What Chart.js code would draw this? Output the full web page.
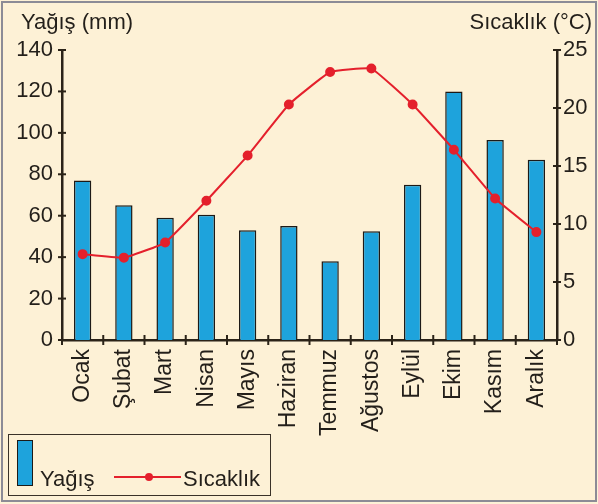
<!DOCTYPE html>
<html>
<head>
<meta charset="utf-8">
<script src="https://cdn.jsdelivr.net/npm/chart.js@4/dist/chart.umd.min.js"></script>
<style>
  html, body { margin: 0; padding: 0; }
  body { width: 598px; height: 504px; position: relative; overflow: hidden; background: #fdf1d6; font-family: "Liberation Sans", Arial, sans-serif; }
  #frame { position: absolute; left: 1px; top: 1px; width: 592px; height: 497px; border: 2px solid #8c8b96; box-sizing: content-box; }
  canvas { position: absolute; left: 0; top: 0; }
  .title { position: absolute; top: 11px; font-size: 22px; line-height: 22px; color: #231f1a; white-space: nowrap; }
  #legend { position: absolute; left: 8px; top: 434px; width: 263px; height: 62px; border: 1px solid #3a3228; box-sizing: border-box; }
  #legend .sw { position: absolute; left: 8px; top: 5px; width: 14px; height: 44px; background: #1ea3dc; border: 1.5px solid #1d1a17; }
  #legend .lbl { position: absolute; font-size: 22px; line-height: 22px; color: #231f1a; top: 33px; white-space: nowrap; }
  #legend .ln { position: absolute; left: 105px; top: 41px; width: 67px; height: 2px; background: #e4202c; }
  #legend .dot { position: absolute; left: 136px; top: 38px; width: 8px; height: 8px; border-radius: 50%; background: #e4202c; }
</style>
</head>
<body>
<div id="frame"></div>
<canvas id="c" width="598" height="504"></canvas>
<div class="title" style="left:21px;">Yağış (mm)</div>
<div class="title" style="right:6px;">Sıcaklık (°C)</div>
<div id="legend">
  <div class="sw"></div>
  <div class="lbl" style="left:31px;">Yağış</div>
  <div class="ln"></div>
  <div class="dot"></div>
  <div class="lbl" style="left:174px;">Sıcaklık</div>
</div>
<script>
const categories = ['Ocak','Şubat','Mart','Nisan','Mayıs','Haziran','Temmuz','Ağustos','Eylül','Ekim','Kasım','Aralık'];
const precipitation = [77, 65, 59, 60.5, 53, 55, 38, 52.5, 75, 120, 96.5, 87];
const temperature = [7.4, 7.1, 8.4, 12.0, 15.9, 20.3, 23.1, 23.4, 20.3, 16.4, 12.2, 9.3];
const precipAxis = { min: 0, max: 140, step: 20 };
const tempAxis = { min: 0, max: 25, step: 5 };

const axisColor = '#2b2318';
const textColor = '#231f1a';
const font = { family: '"Liberation Sans", Arial, sans-serif', size: 22 };
const xFont = { family: '"Liberation Sans", Arial, sans-serif', size: 23 };

const crossTicks = {
  id: 'crossTicks',
  afterDatasetsDraw(chart) {
    const ctx = chart.ctx;
    ctx.save();
    ctx.strokeStyle = axisColor;
    ctx.lineWidth = 2;
    const yl = chart.scales.y, yr = chart.scales.y2, x = chart.scales.x;
    yl.ticks.forEach(t => {
      const py = yl.getPixelForValue(t.value);
      ctx.beginPath(); ctx.moveTo(yl.right - 4, py); ctx.lineTo(yl.right + 4, py); ctx.stroke();
    });
    yr.ticks.forEach(t => {
      const py = yr.getPixelForValue(t.value);
      ctx.beginPath(); ctx.moveTo(yr.left - 4, py); ctx.lineTo(yr.left + 4, py); ctx.stroke();
    });
    for (let i = 0; i <= categories.length; i++) {
      const px = x.getPixelForValue(i - 0.5);
      ctx.beginPath(); ctx.moveTo(px, x.top - 5); ctx.lineTo(px, x.top + 5); ctx.stroke();
    }
    ctx.restore();
  }
};

new Chart(document.getElementById('c'), {
  data: {
    labels: categories,
    datasets: [
      {
        type: 'line',
        label: 'Sıcaklık',
        data: temperature,
        yAxisID: 'y2',
        borderColor: '#e4202c',
        backgroundColor: '#e4202c',
        borderWidth: 2,
        pointRadius: 4,
        pointHoverRadius: 4,
        tension: 0.1,
        order: 0
      },
      {
        type: 'bar',
        label: 'Yağış',
        data: precipitation,
        yAxisID: 'y',
        backgroundColor: '#1ea3dc',
        borderColor: '#1d1a17',
        borderWidth: 1.5,
        borderSkipped: 'bottom',
        categoryPercentage: 1,
        barPercentage: 0.42,
        order: 1
      }
    ]
  },
  options: {
    responsive: false,
    animation: false,
    layout: { padding: { top: 50, right: 0, left: 0, bottom: 0 } },
    plugins: { legend: { display: false }, tooltip: { enabled: false }, title: { display: false } },
    scales: {
      x: {
        offset: true,
        grid: { display: false, drawTicks: false },
        border: { display: true, color: axisColor, width: 2.5 },
        ticks: { color: textColor, font: xFont, minRotation: 90, maxRotation: 90, padding: 9, autoSkip: false },
        afterFit(s) { s.height = 164; }
      },
      y: {
        position: 'left',
        min: precipAxis.min, max: precipAxis.max,
        grid: { display: false, drawTicks: false },
        border: { display: true, color: axisColor, width: 2.5 },
        ticks: { stepSize: precipAxis.step, color: textColor, font, padding: 9 },
        afterFit(s) { s.width = 62; }
      },
      y2: {
        position: 'right',
        min: tempAxis.min, max: tempAxis.max,
        grid: { display: false, drawTicks: false },
        border: { display: true, color: axisColor, width: 2.5 },
        ticks: { stepSize: tempAxis.step, color: textColor, font, padding: 6 },
        afterFit(s) { s.width = 41; }
      }
    }
  },
  plugins: [crossTicks]
});
</script>
</body>
</html>
